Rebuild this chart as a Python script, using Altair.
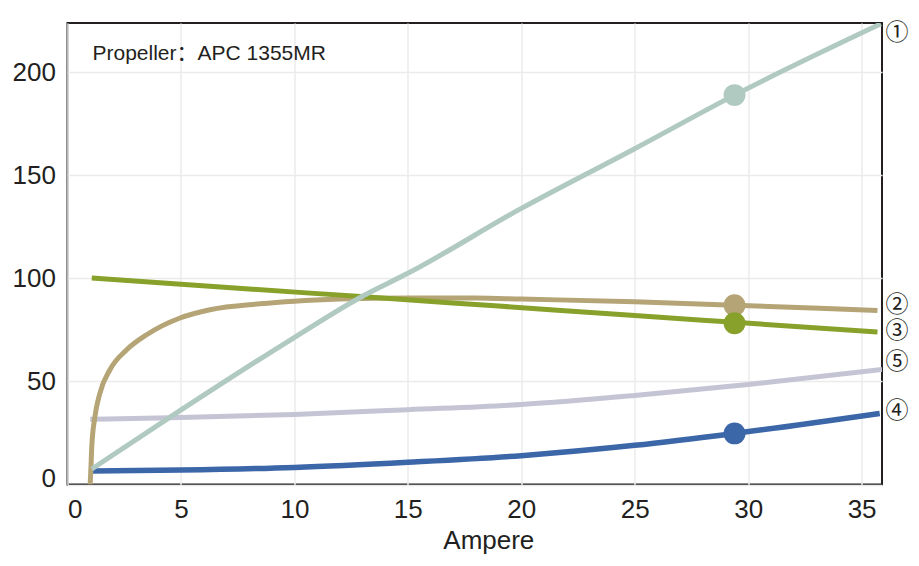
import altair as alt
import pandas as pd

# ---- data ----
x_teal = [1.07, 4.37, 9.8, 13.1, 15, 20, 25, 29.4, 35.85]
y_teal = [7.5, 31.6, 70, 92, 102.5, 134, 163, 189, 223.6]

x_tan = [1.0, 1.04, 1.07, 1.21, 1.43, 1.87, 2.61, 3.49, 4.96, 6.28, 8.48, 10, 12, 15, 18, 20, 25, 29.4, 35.7]
y_tan = [0, 10, 18.4, 33, 44.4, 55.7, 65.4, 72.7, 80.8, 84.8, 87.7, 89, 90, 90.5, 90.5, 90, 88.7, 87, 84.5]

x_green = [1.07, 8, 13.1, 19, 25, 29.4, 35.7]
y_green = [100.2, 94.9, 91.1, 86.6, 82.0, 78.7, 74.0]

x_blue = [1.1, 5, 10, 15, 20, 25, 29.4, 35.8]
y_blue = [6.5, 7.0, 8.3, 10.8, 14.0, 19.0, 24.8, 34.5]

x_lav = [1.0, 5, 10, 15, 20, 25, 30, 35.9]
y_lav = [31.7, 32.5, 34.0, 36.3, 38.8, 43.2, 48.5, 55.8]

marker_series = ["teal", "tan", "green", "blue"]
marker_x = [29.4, 29.4, 29.4, 29.4]
marker_y = [189, 87, 78.3, 24.8]

label_text = ["①", "②", "③", "④", "⑤"]
label_y = [219, 87.3, 74.6, 35.5, 59.7]

x_ticks = [0, 5, 10, 15, 20, 25, 30, 35]
y_ticks = [0, 50, 100, 150, 200]
x_domain = [0, 35.9]
y_domain = [0, 224]

colors = {
    "teal": "#b0c9c1",
    "tan": "#b5a476",
    "green": "#87a12a",
    "blue": "#3b66a8",
    "lavender": "#c5c4d4",
}

FONT = "Liberation Sans, Arial, Helvetica, sans-serif"
INK = "#231f20"

xs = alt.Scale(domain=x_domain, nice=False, zero=False)
ys = alt.Scale(domain=y_domain, nice=False, zero=False)

def series_df(name, xv, yv):
    return pd.DataFrame({"s": name, "x": xv, "y": yv})

def line_layer(name, xv, yv, width=5, with_axes=False):
    if with_axes:
        xenc = alt.X("x:Q", scale=xs, title="Ampere",
                     axis=alt.Axis(values=x_ticks, format="d"))
        yenc = alt.Y("y:Q", scale=ys, title=None,
                     axis=alt.Axis(values=y_ticks, format="d"))
    else:
        xenc = alt.X("x:Q", scale=xs)
        yenc = alt.Y("y:Q", scale=ys)
    return alt.Chart(series_df(name, xv, yv)).mark_line(
        interpolate="monotone", strokeWidth=width, color=colors[name],
        strokeCap="butt", clip=True
    ).encode(x=xenc, y=yenc)

lav = line_layer("lavender", x_lav, y_lav, with_axes=True)
blue = line_layer("blue", x_blue, y_blue, width=5.5)
tan = line_layer("tan", x_tan, y_tan)
green = line_layer("green", x_green, y_green)
teal = line_layer("teal", x_teal, y_teal)

pts_df = pd.DataFrame({"s": marker_series, "x": marker_x, "y": marker_y})
points = alt.Chart(pts_df).mark_circle(size=480, opacity=1).encode(
    x=alt.X("x:Q", scale=xs),
    y=alt.Y("y:Q", scale=ys),
    color=alt.Color("s:N", scale=alt.Scale(domain=list(colors.keys()),
                                           range=list(colors.values())), legend=None),
    order=alt.Order("ord:Q"),
).transform_calculate(
    ord="indexof(['teal','tan','green','blue'], datum.s)"
)

note = alt.Chart(pd.DataFrame({"t": ["Propeller：APC 1355MR"]})).mark_text(
    align="left", baseline="alphabetic",
    font="Liberation Sans, Noto Sans CJK SC, sans-serif", fontSize=21, color=INK
).encode(text="t:N", x=alt.value(25), y=alt.value(37))

lab_df = pd.DataFrame({"t": label_text, "y": label_y, "x": [x_domain[1]] * len(label_y)})
labels = alt.Chart(lab_df).mark_text(
    align="center", baseline="middle", font="Noto Sans CJK SC", fontSize=23,
    color=INK, dx=15, clip=False
).encode(x=alt.X("x:Q", scale=xs), y=alt.Y("y:Q", scale=ys), text="t:N")

chart = alt.layer(lav, blue, tan, green, teal, points, note, labels).properties(
    width=814.5, height=461.5,
    padding={"left": 59.5, "top": 15, "right": 29, "bottom": 69.5},
    autosize=alt.AutoSizeParams(type="none"),
    background="white",
).configure_view(
    stroke=INK, strokeWidth=2
).configure_axis(
    labelFont=FONT, labelFontSize=26, labelColor=INK,
    titleFont=FONT, titleFontSize=26, titleColor=INK, titleFontWeight="normal",
    domain=False, ticks=False, grid=True, gridColor="#ebebeb", gridWidth=1.5,
    labelPadding=12,
).configure_axisX(
    labelFlush=True, titleX=420.8, titleY=64, titleBaseline="alphabetic",
    titleAlign="center", titleAnchor="start",
).configure_axisY(
    labelFlush=True, labelFlushOffset=7,
)

chart.save("out.html", embed_options={"renderer": "svg", "actions": False})
